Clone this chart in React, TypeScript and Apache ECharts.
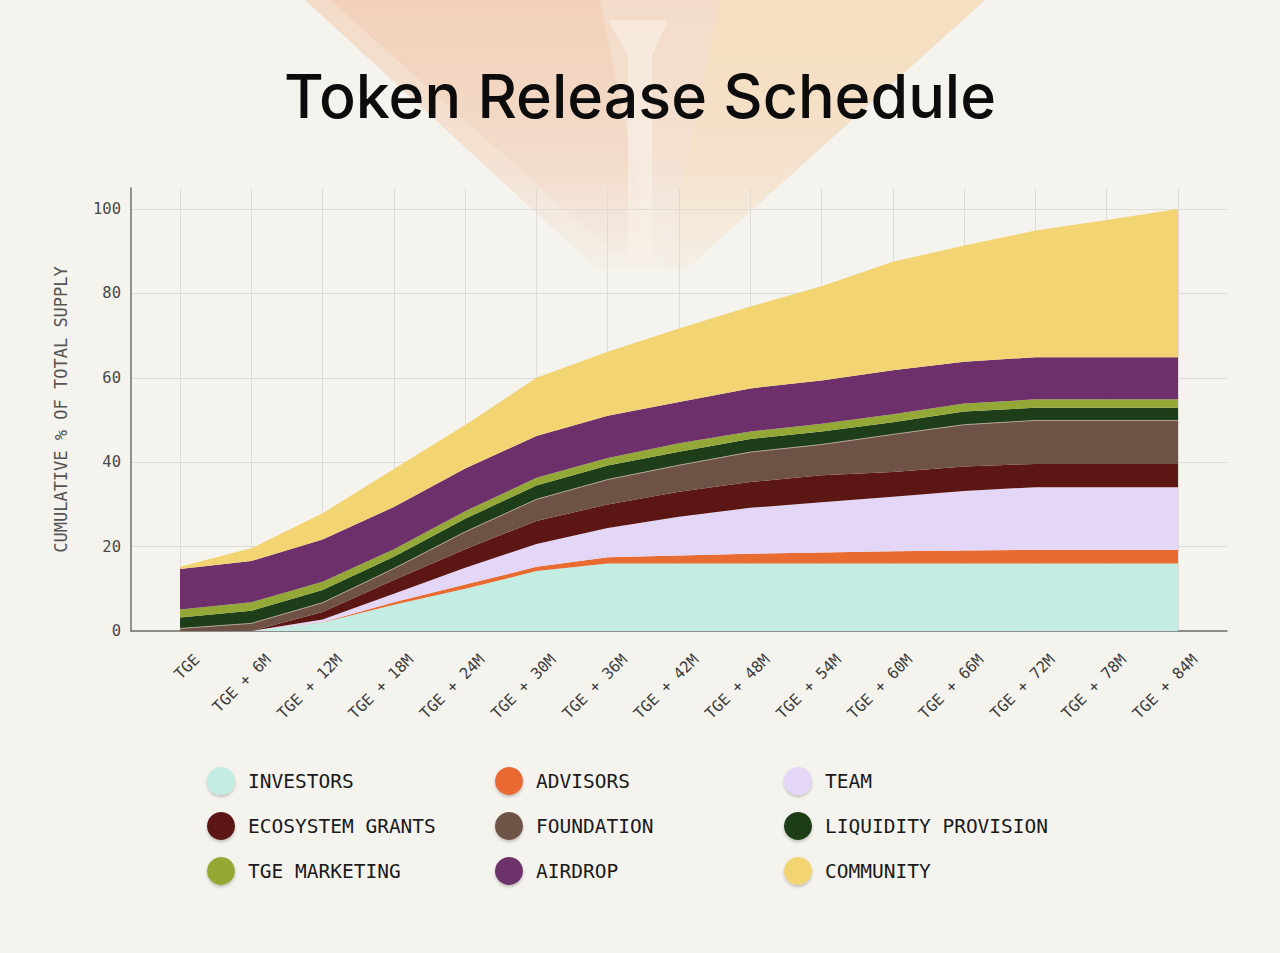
import React, { useEffect, useRef } from 'react';
import * as echarts from 'echarts';

const categories = [
    'TGE', 'TGE + 6M', 'TGE + 12M', 'TGE + 18M', 'TGE + 24M', 'TGE + 30M', 'TGE + 36M', 'TGE + 42M',
    'TGE + 48M', 'TGE + 54M', 'TGE + 60M', 'TGE + 66M', 'TGE + 72M', 'TGE + 78M', 'TGE + 84M',
];

const yTicks = [0, 20, 40, 60, 80, 100];

// % of total supply released in each bucket (stacked, bottom to top)
const investors = [0, 0, 2.0, 6.2, 10.0, 14.2, 16.0, 16.0, 16.0, 16.0, 16.0, 16.0, 16.0, 16.0, 16.0];
const advisors = [0, 0, 0.1, 0.6, 1.0, 1.0, 1.5, 1.9, 2.3, 2.6, 2.9, 3.1, 3.2, 3.2, 3.2];
const team = [0, 0, 0.6, 2.0, 4.0, 5.4, 6.9, 9.2, 10.9, 11.9, 12.9, 14.1, 14.9, 14.9, 14.9];
const ecosystemGrants = [0, 0, 1.8, 3.3, 4.4, 5.5, 5.6, 5.9, 6.1, 6.4, 5.9, 5.8, 5.5, 5.5, 5.5];
const foundation = [0.6, 1.8, 2.2, 2.7, 4.1, 5.1, 5.9, 6.3, 7.1, 7.3, 8.9, 9.9, 10.3, 10.3, 10.3];
const liquidity = [2.6, 3.0, 3.0, 2.8, 3.1, 3.3, 3.3, 3.2, 3.1, 3.1, 2.9, 3.1, 3.0, 3.0, 3.0];
const tgeMarketing = [1.9, 2.0, 2.0, 1.8, 1.8, 1.8, 1.8, 2.0, 1.8, 1.8, 1.9, 1.9, 2.0, 2.0, 2.0];
const airdrop = [9.6, 9.8, 10.0, 10.0, 10.1, 9.9, 10.0, 9.8, 10.2, 10.3, 10.4, 9.9, 10.0, 10.0, 10.0];
const community = [0.5, 3.0, 6.2, 9.0, 10.3, 13.8, 15.2, 17.4, 19.4, 22.3, 25.7, 27.6, 30.0, 32.5, 35.1];

const seriesList = [
    { name: 'INVESTORS', data: investors, color: '#c3ece2' },
    { name: 'ADVISORS', data: advisors, color: '#e86b31' },
    { name: 'TEAM', data: team, color: '#e4d6f7' },
    { name: 'ECOSYSTEM GRANTS', data: ecosystemGrants, color: '#5c1715' },
    { name: 'FOUNDATION', data: foundation, color: '#6e5246' },
    { name: 'LIQUIDITY PROVISION', data: liquidity, color: '#1d3e19' },
    { name: 'TGE MARKETING', data: tgeMarketing, color: '#93a836' },
    { name: 'AIRDROP', data: airdrop, color: '#6d306b' },
    { name: 'COMMUNITY', data: community, color: '#f2d473' },
];

const legendColumns = [
    ['INVESTORS', 'ECOSYSTEM GRANTS', 'TGE MARKETING'],
    ['ADVISORS', 'FOUNDATION', 'AIRDROP'],
    ['TEAM', 'LIQUIDITY PROVISION', 'COMMUNITY'],
];

const MONO = '"DejaVu Sans Mono", "Liberation Mono", monospace';
const GRID_LINE = '#dddcd5';
const AXIS_LINE = '#707070';

const App: React.FC = () => {
    const chartRef = useRef<HTMLDivElement>(null);

    useEffect(() => {
        const chart = echarts.init(chartRef.current!, null, { renderer: 'svg' });

        const series = seriesList.map(s => ({
            name: s.name,
            type: 'line',
            stack: 'total',
            xAxisIndex: 2,
            yAxisIndex: 2,
            data: s.data,
            symbol: 'none',
            smooth: false,
            itemStyle: { color: s.color },
            lineStyle:
                s.name === 'FOUNDATION'
                    ? { width: 1, color: '#b2a397' }
                    : { width: 0 },
            areaStyle: { color: s.color, opacity: 1 },
            z: 3,
        }));

        // soft peach gem behind the title
        const gem = [
            {
                type: 'polygon',
                z: -1,
                silent: true,
                shape: { points: [[305, 0], [985, 0], [688, 268], [596, 268]] },
                style: {
                    fill: new echarts.graphic.LinearGradient(0, 0, 0, 1, [
                        { offset: 0, color: 'rgba(243,200,170,0.55)' },
                        { offset: 0.6, color: 'rgba(242,198,168,0.4)' },
                        { offset: 1, color: 'rgba(244,214,190,0.12)' },
                    ]),
                },
            },
            {
                type: 'polygon',
                z: -1,
                silent: true,
                shape: { points: [[330, 0], [600, 0], [650, 250], [610, 250]] },
                style: {
                    fill: new echarts.graphic.LinearGradient(0, 0, 0, 1, [
                        { offset: 0, color: 'rgba(236,178,140,0.25)' },
                        { offset: 1, color: 'rgba(236,178,140,0.05)' },
                    ]),
                },
            },
            {
                type: 'polygon',
                z: -1,
                silent: true,
                shape: { points: [[720, 0], [985, 0], [690, 265], [665, 265]] },
                style: {
                    fill: new echarts.graphic.LinearGradient(0, 0, 0, 1, [
                        { offset: 0, color: 'rgba(248,226,180,0.45)' },
                        { offset: 1, color: 'rgba(248,226,180,0.08)' },
                    ]),
                },
            },
            {
                type: 'polygon',
                z: -1,
                silent: true,
                shape: { points: [[608, 20], [668, 20], [652, 55], [652, 262], [628, 262], [628, 55]] },
                style: { fill: 'rgba(250,242,234,0.55)' },
            },
        ];

        const option: any = {
            animation: false,
            backgroundColor: '#f4f3ee',
            title: {
                text: 'Token Release Schedule',
                left: 'center',
                top: 60,
                textStyle: {
                    fontFamily: 'Inter',
                    fontWeight: 500,
                    fontSize: 61,
                    color: '#0c0c0c',
                },
            },
            graphic: gem,
            grid: [
                // frame (axis lines)
                { left: 131, right: 53, top: 188, bottom: 322 },
                // y labels and horizontal split lines
                { left: 131, right: 53, top: 209, bottom: 322 },
                // data
                { left: 180, right: 102, top: 188, bottom: 322 },
                // x labels
                { left: 197, right: 85, top: 188, bottom: 322 },
            ],
            xAxis: [
                {
                    gridIndex: 0,
                    type: 'value',
                    min: 0,
                    max: 1,
                    axisLine: { show: true, onZero: false, lineStyle: { color: AXIS_LINE, width: 1.5 } },
                    axisTick: { show: false },
                    axisLabel: { show: false },
                    splitLine: { show: false },
                },
                { gridIndex: 1, type: 'value', show: false },
                {
                    gridIndex: 2,
                    type: 'category',
                    data: categories,
                    boundaryGap: false,
                    axisLine: { show: false },
                    axisTick: { show: false },
                    axisLabel: { show: false },
                    splitLine: { show: true, interval: 0, lineStyle: { color: GRID_LINE, width: 1 } },
                },
                {
                    gridIndex: 3,
                    type: 'category',
                    data: categories,
                    boundaryGap: false,
                    axisLine: { show: false },
                    axisTick: { show: false },
                    splitLine: { show: false },
                    axisLabel: {
                        interval: 0,
                        rotate: 45,
                        margin: 26,
                        fontFamily: MONO,
                        fontSize: 15.5,
                        color: '#3c3c3c',
                    },
                },
            ],
            yAxis: [
                {
                    gridIndex: 0,
                    type: 'value',
                    min: 0,
                    max: 1,
                    name: 'CUMULATIVE % OF TOTAL SUPPLY',
                    nameLocation: 'middle',
                    nameGap: 62,
                    nameRotate: 90,
                    nameTextStyle: { fontFamily: MONO, fontSize: 17, color: '#555555' },
                    axisLine: { show: true, onZero: false, lineStyle: { color: AXIS_LINE, width: 1.5 } },
                    axisTick: { show: false },
                    axisLabel: { show: false },
                    splitLine: { show: false },
                },
                {
                    gridIndex: 1,
                    type: 'value',
                    min: yTicks[0],
                    max: yTicks[yTicks.length - 1],
                    interval: 20,
                    axisLine: { show: false },
                    axisTick: { show: false },
                    axisLabel: { margin: 10, fontFamily: MONO, fontSize: 15.5, color: '#4a4a4a' },
                    splitLine: { show: true, lineStyle: { color: GRID_LINE, width: 1 } },
                },
                { gridIndex: 2, type: 'value', min: 0, max: 105, show: false },
                { gridIndex: 3, type: 'value', min: 0, max: 105, show: false },
            ],
            legend: legendColumns.map((names, i) => ({
                data: names,
                orient: 'vertical',
                left: [207, 495, 784][i],
                top: 767,
                padding: 0,
                icon: 'circle',
                itemWidth: 28,
                itemHeight: 28,
                itemGap: 17,
                selectedMode: false,
                itemStyle: {
                    shadowBlur: 3,
                    shadowOffsetY: 2,
                    shadowColor: 'rgba(0,0,0,0.22)',
                },
                textStyle: {
                    fontFamily: MONO,
                    fontSize: 19.5,
                    color: '#1a1a1a',
                    padding: [0, 0, 0, 8],
                },
            })),
            series,
        };

        chart.setOption(option);
        return () => {
            chart.dispose();
        };
    }, []);

    return (
        <div
            ref={chartRef}
            style={{ position: 'absolute', left: 0, top: 0, width: 1280, height: 953 }}
        />
    );
};

export default App;
